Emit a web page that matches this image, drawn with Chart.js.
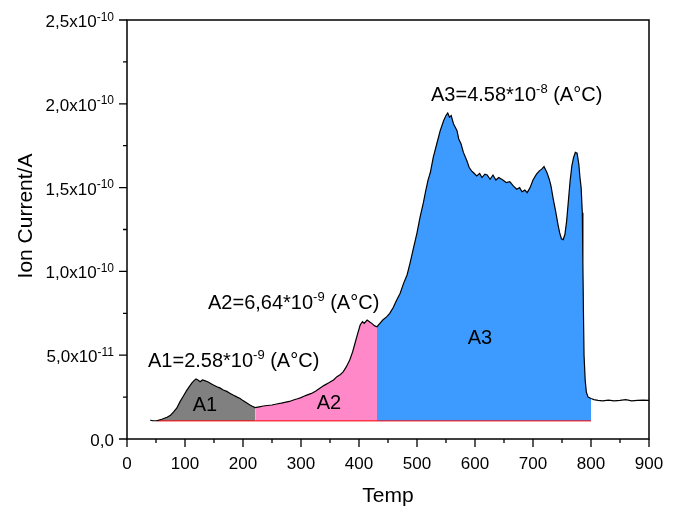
<!DOCTYPE html>
<html lang="en">
<head>
  <meta charset="UTF-8">
  <title>Ion Current vs Temp</title>
  <script src="https://cdn.jsdelivr.net/npm/chart.js"></script>
  <style>
    html, body { margin: 0; padding: 0; background: #fff; }
  </style>
</head>
<body>
  <canvas id="ionChart" width="680" height="506"></canvas>

  <script>
    // measured curve (temperature, ion current in A)
    const temps = [40, 44, 51, 60, 69, 75, 80, 86, 91, 97, 103, 108, 112, 116, 119, 123, 126, 130, 134, 140,
      145, 149, 155, 160, 166, 172, 178, 183, 190, 195, 200, 206, 212, 216, 221, 228, 235, 242, 250, 258,
      266, 274, 280, 287, 294, 300, 305, 310, 318, 325, 333, 340, 348, 356, 362, 368, 373, 378, 384, 389,
      393, 397, 402, 406, 409, 414, 418, 422, 427, 431, 436, 441, 448, 453, 459, 465, 471, 477, 483, 488,
      494, 500, 505, 511, 515, 519, 523, 528, 534, 540, 546, 550, 553, 556, 559, 563, 566, 569, 572, 576,
      580, 586, 590, 594, 597, 603, 608, 612, 617, 621, 626, 631, 636, 641, 648, 654, 660, 666, 672, 677,
      681, 686, 690, 695, 700, 706, 711, 715, 719, 724, 728, 731, 735, 739, 743, 746, 749, 752, 755, 758,
      761, 764, 767, 770, 773, 776, 779, 781, 783, 785, 786, 787, 788, 790, 792, 795, 800, 805, 812, 820,
      830, 840, 850, 860, 870, 880, 890, 900];
    const ionCurrent = [1.12e-11, 1.10e-11, 1.09e-11, 1.18e-11, 1.30e-11, 1.42e-11, 1.60e-11, 1.85e-11, 2.20e-11, 2.55e-11,
      2.90e-11, 3.15e-11, 3.35e-11, 3.50e-11, 3.58e-11, 3.50e-11, 3.42e-11, 3.52e-11, 3.48e-11, 3.40e-11,
      3.30e-11, 3.22e-11, 3.12e-11, 3.05e-11, 2.92e-11, 2.84e-11, 2.72e-11, 2.62e-11, 2.50e-11, 2.42e-11,
      2.29e-11, 2.16e-11, 2.03e-11, 1.95e-11, 1.87e-11, 1.92e-11, 1.97e-11, 2.00e-11, 2.03e-11, 2.09e-11,
      2.14e-11, 2.20e-11, 2.24e-11, 2.33e-11, 2.40e-11, 2.47e-11, 2.55e-11, 2.62e-11, 2.72e-11, 2.85e-11,
      3.04e-11, 3.20e-11, 3.35e-11, 3.52e-11, 3.72e-11, 3.85e-11, 4.02e-11, 4.30e-11, 4.71e-11, 5.20e-11,
      5.70e-11, 6.20e-11, 6.80e-11, 7.00e-11, 6.90e-11, 7.10e-11, 7.00e-11, 6.90e-11, 6.75e-11, 6.70e-11,
      6.90e-11, 7.10e-11, 7.30e-11, 7.50e-11, 7.85e-11, 8.30e-11, 8.70e-11, 9.30e-11, 9.80e-11, 1.05e-10,
      1.14e-10, 1.23e-10, 1.32e-10, 1.41e-10, 1.48e-10, 1.545e-10, 1.59e-10, 1.68e-10, 1.76e-10, 1.84e-10,
      1.90e-10, 1.93e-10, 1.945e-10, 1.92e-10, 1.93e-10, 1.88e-10, 1.86e-10, 1.84e-10, 1.79e-10, 1.76e-10,
      1.71e-10, 1.66e-10, 1.62e-10, 1.60e-10, 1.59e-10, 1.57e-10, 1.585e-10, 1.56e-10, 1.58e-10, 1.575e-10,
      1.55e-10, 1.575e-10, 1.545e-10, 1.56e-10, 1.545e-10, 1.53e-10, 1.535e-10, 1.51e-10, 1.49e-10, 1.50e-10,
      1.475e-10, 1.485e-10, 1.47e-10, 1.50e-10, 1.545e-10, 1.58e-10, 1.60e-10, 1.61e-10, 1.625e-10, 1.59e-10,
      1.55e-10, 1.51e-10, 1.43e-10, 1.36e-10, 1.28e-10, 1.23e-10, 1.195e-10, 1.19e-10, 1.22e-10, 1.30e-10,
      1.42e-10, 1.54e-10, 1.63e-10, 1.68e-10, 1.71e-10, 1.705e-10, 1.64e-10, 1.56e-10, 1.50e-10, 1.35e-10,
      1.05e-10, 7.5e-11, 5.0e-11, 3.5e-11, 2.8e-11, 2.5e-11, 2.42e-11, 2.35e-11, 2.30e-11, 2.28e-11,
      2.32e-11, 2.27e-11, 2.30e-11, 2.35e-11, 2.28e-11, 2.30e-11, 2.32e-11, 2.30e-11];

    const baseline = 1.08e-11;
    const areaNames = ['A1', 'A2', 'A3'];
    const areaStart = [51, 221, 431];
    const areaEnd = [221, 431, 800];
    const areaColors = ['#808080', '#ff88c8', '#3d9bff'];
    const areaValue = ['A1=2.58*10', 'A2=6,64*10', 'A3=4.58*10'];
    const areaExp = ['-9', '-9', '-8'];

    const xTicks = [0, 100, 200, 300, 400, 500, 600, 700, 800, 900];
    const yTicks = [0, 5e-11, 1e-10, 1.5e-10, 2e-10, 2.5e-10];
    const yTickText = ['0,0', '5,0x10', '1,0x10', '1,5x10', '2,0x10', '2,5x10'];
    const yTickExp = ['', '-11', '-10', '-10', '-10', '-10'];

    const FONT = 'Arial, "Liberation Sans", sans-serif';

    const curve = temps.map((t, i) => ({ x: t, y: ionCurrent[i] }));

    const areaSets = areaNames.map((name, k) => ({
      label: name,
      data: curve.filter(p => p.x >= areaStart[k] && p.x <= areaEnd[k]),
      borderWidth: 0,
      borderColor: 'rgba(0,0,0,0)',
      backgroundColor: areaColors[k],
      pointRadius: 0,
      fill: { value: baseline }
    }));

    // draws base text + superscript (+ optional tail), returns end x
    function drawSup(ctx, x, y, base, exp, tail, size, supSize) {
      ctx.font = size + 'px ' + FONT;
      ctx.fillText(base, x, y);
      x += ctx.measureText(base).width;
      if (exp) {
        ctx.font = supSize + 'px ' + FONT;
        ctx.fillText(exp, x, y - size * 0.38);
        x += ctx.measureText(exp).width;
      }
      if (tail) {
        ctx.font = size + 'px ' + FONT;
        ctx.fillText(tail, x, y);
        x += ctx.measureText(tail).width;
      }
      return x;
    }

    function supWidth(ctx, base, exp, size, supSize) {
      ctx.font = size + 'px ' + FONT;
      let w = ctx.measureText(base).width;
      ctx.font = supSize + 'px ' + FONT;
      return w + (exp ? ctx.measureText(exp).width : 0);
    }

    const axesPlugin = {
      id: 'originAxes',
      afterDraw(chart) {
        const { ctx, chartArea: a, scales: { x, y } } = chart;
        ctx.save();
        ctx.strokeStyle = '#000';
        ctx.fillStyle = '#000';
        ctx.lineWidth = 1.5;
        ctx.strokeRect(a.left, a.top, a.right - a.left, a.bottom - a.top);

        // x ticks (major every 100, minor every 50)
        ctx.lineWidth = 1.3;
        ctx.beginPath();
        for (let v = 0; v <= 900; v += 50) {
          const px = x.getPixelForValue(v);
          ctx.moveTo(px, a.bottom);
          ctx.lineTo(px, a.bottom + (v % 100 === 0 ? 8 : 4));
        }
        for (let v = 0; v <= 2.5e-10 + 1e-15; v += 2.5e-11) {
          const py = y.getPixelForValue(v);
          const major = Math.round(v / 2.5e-11) % 2 === 0;
          ctx.moveTo(a.left, py);
          ctx.lineTo(a.left - (major ? 8 : 4), py);
        }
        ctx.stroke();

        ctx.textBaseline = 'alphabetic';
        ctx.font = '17px ' + FONT;
        ctx.textAlign = 'center';
        xTicks.forEach(v => ctx.fillText(String(v), x.getPixelForValue(v), 469));

        ctx.textAlign = 'left';
        yTicks.forEach((v, i) => {
          const py = y.getPixelForValue(v);
          const w = supWidth(ctx, yTickText[i], yTickExp[i], 17, 12);
          drawSup(ctx, 114 - w, py + 7, yTickText[i], yTickExp[i], '', 17, 12);
        });

        // axis titles
        ctx.font = '21px ' + FONT;
        ctx.textAlign = 'center';
        ctx.fillText('Temp', (a.left + a.right) / 2, 502);
        ctx.save();
        ctx.translate(32, 216);
        ctx.rotate(-Math.PI / 2);
        ctx.fillText('Ion Current/A', 0, 0);
        ctx.restore();

        // area results
        ctx.textAlign = 'left';
        const labelPos = [[148, 367], [208, 309], [431, 101]];
        areaNames.forEach((n, k) => {
          drawSup(ctx, labelPos[k][0], labelPos[k][1], areaValue[k], areaExp[k], ' (A\u00B0C)', 20, 13);
        });
        const innerPos = [[205, 411], [329, 409], [480, 344]];
        ctx.font = '20px ' + FONT;
        ctx.textAlign = 'center';
        areaNames.forEach((n, k) => ctx.fillText(n, innerPos[k][0], innerPos[k][1]));
        ctx.restore();
      }
    };

    new Chart(document.getElementById('ionChart'), {
      type: 'line',
      data: {
        datasets: [
          { label: 'Ion current', data: curve, borderColor: '#000', borderWidth: 1.2, pointRadius: 0, fill: false },
          { label: 'Baseline', data: [{ x: areaStart[0], y: baseline }, { x: areaEnd[2], y: baseline }],
            borderColor: '#ff0000', borderWidth: 1, pointRadius: 0, fill: false },
          ...areaSets
        ]
      },
      options: {
        responsive: false,
        animation: false,
        layout: { padding: { left: 127, top: 20, right: 31, bottom: 67 } },
        plugins: { legend: { display: false }, tooltip: { enabled: false } },
        scales: {
          x: { type: 'linear', min: 0, max: 900, display: false },
          y: { type: 'linear', min: 0, max: 2.5e-10, display: false }
        }
      },
      plugins: [axesPlugin]
    });
  </script>
</body>
</html>
